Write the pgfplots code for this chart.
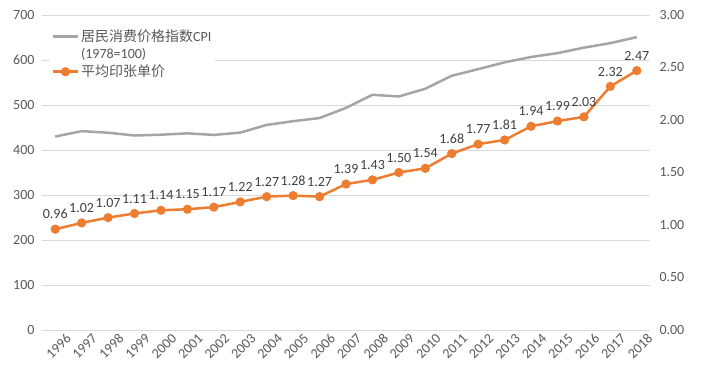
\documentclass[border=0pt]{standalone}
\usepackage{pgfplots}
\pgfplotsset{compat=1.18}
\usepackage{fontspec}
\setmainfont{Carlito}
\newfontfamily\cjk{Noto Sans CJK SC}
\definecolor{cpigray}{HTML}{A5A5A5}
\definecolor{orng}{HTML}{ED7D31}
\definecolor{txt}{HTML}{595959}
\definecolor{lbl}{HTML}{404040}
\definecolor{gridc}{HTML}{D9D9D9}

\pgfplotstableread{
x year cpi
0 1996 429.9
1 1997 441.9
2 1998 438.4
3 1999 432.2
4 2000 434.0
5 2001 437.0
6 2002 433.5
7 2003 438.7
8 2004 455.8
9 2005 464.0
10 2006 471.0
11 2007 493.6
12 2008 522.7
13 2009 519.0
14 2010 536.1
15 2011 565.0
16 2012 579.7
17 2013 594.8
18 2014 606.7
19 2015 615.2
20 2016 627.5
21 2017 637.5
22 2018 650.9
}\cpitable

\pgfplotstableread{
x price lab
0 0.96 0.96
1 1.02 1.02
2 1.07 1.07
3 1.11 1.11
4 1.14 1.14
5 1.15 1.15
6 1.17 1.17
7 1.22 1.22
8 1.27 1.27
9 1.28 1.28
10 1.27 1.27
11 1.39 1.39
12 1.43 1.43
13 1.50 1.50
14 1.54 1.54
15 1.68 1.68
16 1.77 1.77
17 1.81 1.81
18 1.94 1.94
19 1.99 1.99
20 2.03 2.03
21 2.32 2.32
22 2.47 2.47
}\pricetable

\begin{document}
\begin{tikzpicture}
\pgfplotsset{
  base/.style={
    scale only axis, width=608bp, height=315bp,
    xmin=-0.5, xmax=22.5,
    /pgf/number format/assume math mode=true,
    major tick length=0pt,
    tick label style={text=txt, font=\fontsize{14bp}{16bp}\selectfont},
    axis line style={draw=none},
  }
}
\begin{axis}[base,
  ymin=0, ymax=700, ytick distance=100,
  ymajorgrids, grid style={gridc, line width=0.8bp},
  xtick={0,...,22},
  xticklabels={1996,1997,1998,1999,2000,2001,2002,2003,2004,2005,2006,2007,2008,2009,2010,2011,2012,2013,2014,2015,2016,2017,2018},
  xticklabel style={rotate=45, anchor=north east, inner sep=0bp, yshift=-9bp, xshift=5bp},
  yticklabel style={xshift=-4bp},
]
\addplot[cpigray, line width=2.5bp] table[x=x, y=cpi] {\cpitable};
\end{axis}
\begin{axis}[base,
  ymin=0, ymax=3, ytick distance=0.5,
  axis y line*=right, axis x line=none,
  yticklabel={\pgfmathprintnumber[fixed, fixed zerofill, precision=2]{\tick}},
  yticklabel style={xshift=6bp},
  legend cell align=left,
  legend style={draw=none, fill=white, at={(rel axis cs:0.013,0.965)}, anchor=north west,
    font=\fontsize{14bp}{17bp}\selectfont, text=txt, inner sep=1.5bp, row sep=1.2bp},
  legend image code/.code={\draw[mark repeat=2, mark phase=2] plot coordinates {(0bp,0bp)(12.5bp,0bp)(25bp,0bp)};},
]
\addlegendimage{cpigray, line width=2.5bp}
\addlegendentry{{\cjk 居民消费价格指数}CPI}
\addlegendimage{empty legend}
\addlegendentry{(1978=100)}
\addplot[orng, line width=2.5bp, mark=*, mark size=3.3bp, mark options={fill=orng, draw=orng},
  point meta=explicit symbolic,
  nodes near coords,
  every node near coord/.style={anchor=south, inner sep=1bp, yshift=8bp, text=lbl, font=\fontsize{14bp}{16bp}\selectfont},
] table[x=x, y=price, meta=lab] {\pricetable};
\addlegendentry{\cjk 平均印张单价}
\end{axis}
\pgfresetboundingbox
\useasboundingbox (-42bp,-43bp) rectangle (660bp,330bp);
\end{tikzpicture}
\end{document}
